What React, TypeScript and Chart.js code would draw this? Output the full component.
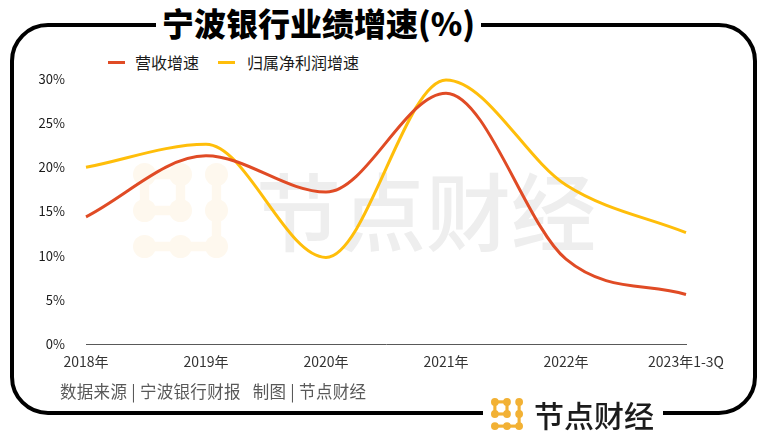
import React, { useEffect, useRef } from 'react';
import { Chart, registerables } from 'chart.js';

Chart.register(...registerables);

const years = ['2018年', '2019年', '2020年', '2021年', '2022年', '2023年1-3Q'];
const revenueGrowth = [14.4, 21.3, 17.2, 28.4, 9.6, 5.6];
const profitGrowth = [20.0, 22.6, 9.8, 29.9, 18.0, 12.6];
const yTicks = [0, 5, 10, 15, 20, 25, 30];

const CJK = '"Noto Sans CJK SC", "Noto Sans", sans-serif';
const RED = '#e04b25';
const YELLOW = '#ffbe0a';

// dot logo: 2x2 loop top-left, right column, bottom row
const DotLogo: React.FC<{ size: number; color: string }> = ({ size, color }) => {
  const p = [5, 15, 25];
  const links: [number, number, number, number][] = [
    [0, 0, 1, 0], [0, 1, 1, 1], [0, 0, 0, 1], [1, 0, 1, 1],
    [2, 0, 2, 1], [2, 1, 2, 2],
    [0, 2, 1, 2], [1, 2, 2, 2],
  ];
  const dots = [[0, 0], [1, 0], [2, 0], [0, 1], [1, 1], [2, 1], [0, 2], [1, 2], [2, 2]];
  return (
    <svg width={size} height={size} viewBox="1.8 1.8 26.4 26.4" style={{ display: 'block' }}>
      {links.map(([a, b, c, d], i) => (
        <line key={i} x1={p[a]} y1={p[b]} x2={p[c]} y2={p[d]} stroke={color} strokeWidth={2.6} />
      ))}
      {dots.map(([a, b], i) => (
        <circle key={i} cx={p[a]} cy={p[b]} r={3.2} fill={color} />
      ))}
    </svg>
  );
};

const GrowthChart: React.FC = () => {
  const chartRef = useRef<HTMLCanvasElement>(null);
  const chartInstance = useRef<Chart | null>(null);

  useEffect(() => {
    if (!chartRef.current) return;
    if (chartInstance.current) chartInstance.current.destroy();

    chartInstance.current = new Chart(chartRef.current, {
      type: 'line',
      data: {
        labels: years,
        datasets: [
          {
            label: '营收增速',
            data: revenueGrowth,
            borderColor: RED,
            borderWidth: 3,
            cubicInterpolationMode: 'monotone',
            pointRadius: 0,
            fill: false,
          },
          {
            label: '归属净利润增速',
            data: profitGrowth,
            borderColor: YELLOW,
            borderWidth: 3,
            cubicInterpolationMode: 'monotone',
            pointRadius: 0,
            fill: false,
          },
        ],
      },
      options: {
        responsive: false,
        animation: false,
        clip: false as any,
        layout: { padding: { left: 0, right: 78, top: 79, bottom: 0 } },
        plugins: {
          legend: { display: false },
          tooltip: { enabled: false },
        },
        scales: {
          x: {
            offset: false,
            grid: { display: false },
            border: { display: true, color: '#595959', width: 1 },
            ticks: {
              color: '#333333',
              padding: 1,
              maxRotation: 0,
              autoSkip: false,
              font: { family: CJK, size: 14 },
            },
            afterFit: (scale: any) => {
              scale.height = 94;
            },
          },
          y: {
            min: 0,
            max: 30,
            grid: { display: false },
            border: { display: false },
            afterBuildTicks: (scale: any) => {
              scale.ticks = yTicks.map((v) => ({ value: v }));
            },
            ticks: {
              color: '#1a1a1a',
              padding: 13,
              font: { family: CJK, size: 13 },
              callback: (value) => value + '%',
            },
            afterFit: (scale: any) => {
              scale.width = 86;
            },
          },
        },
      },
    });

    return () => {
      if (chartInstance.current) {
        chartInstance.current.destroy();
        chartInstance.current = null;
      }
    };
  }, []);

  return (
    <canvas
      ref={chartRef}
      width={764}
      height={438}
      style={{ position: 'absolute', left: 0, top: 0, width: 764, height: 438 }}
    ></canvas>
  );
};

export default function App() {
  useEffect(() => {
    document.body.style.margin = '0';
  }, []);

  return (
    <div
      style={{
        position: 'relative',
        width: 764,
        height: 438,
        overflow: 'hidden',
        background: '#ffffff',
        fontFamily: CJK,
      }}
    >
      {/* frame */}
      <div
        style={{
          position: 'absolute',
          left: 10,
          top: 23,
          width: 739,
          height: 384,
          border: '4px solid #000',
          borderRadius: 38,
        }}
      />

      {/* watermark */}
      <div style={{ position: 'absolute', left: 133, top: 163 }}>
        <DotLogo size={95} color="#fef8ee" />
      </div>
      <div
        style={{
          position: 'absolute',
          left: 256,
          top: 164,
          fontSize: 85,
          lineHeight: '88px',
          color: '#eeeeee',
          fontWeight: 500,
          whiteSpace: 'nowrap',
        }}
      >
        节点财经
      </div>

      {/* title */}
      <div
        style={{
          position: 'absolute',
          left: 156,
          top: 3,
          padding: '0 6px',
          background: '#fff',
          fontSize: 32,
          lineHeight: '38px',
          fontWeight: 900,
          color: '#000',
          whiteSpace: 'nowrap',
        }}
      >
        宁波银行业绩增速(%)
      </div>

      {/* legend */}
      <div
        style={{
          position: 'absolute',
          left: 108,
          top: 51,
          display: 'flex',
          alignItems: 'center',
          fontSize: 16,
          lineHeight: '22px',
          color: '#1a1a1a',
          whiteSpace: 'nowrap',
        }}
      >
        <span style={{ display: 'inline-block', width: 17, height: 3, background: RED, marginRight: 10 }} />
        <span>营收增速</span>
        <span style={{ display: 'inline-block', width: 17, height: 3, background: YELLOW, margin: '0 12px 0 19px' }} />
        <span>归属净利润增速</span>
      </div>

      <GrowthChart />

      {/* source note */}
      <div
        style={{
          position: 'absolute',
          left: 60,
          top: 379,
          fontSize: 16.5,
          lineHeight: '24px',
          color: '#595959',
          letterSpacing: 0.3,
          whiteSpace: 'pre',
        }}
      >
        {'数据来源 | 宁波银行财报   制图 | 节点财经'}
      </div>

      {/* bottom brand */}
      <div
        style={{
          position: 'absolute',
          left: 483,
          top: 394,
          width: 180,
          height: 40,
          background: '#fff',
          display: 'flex',
          alignItems: 'center',
        }}
      >
        <div style={{ marginLeft: 8 }}>
          <DotLogo size={32} color="#f2b134" />
        </div>
        <span
          style={{
            marginLeft: 11,
            fontSize: 30,
            lineHeight: '34px',
            fontWeight: 500,
            color: '#1c1c1c',
            whiteSpace: 'nowrap',
          }}
        >
          节点财经
        </span>
      </div>
    </div>
  );
}
